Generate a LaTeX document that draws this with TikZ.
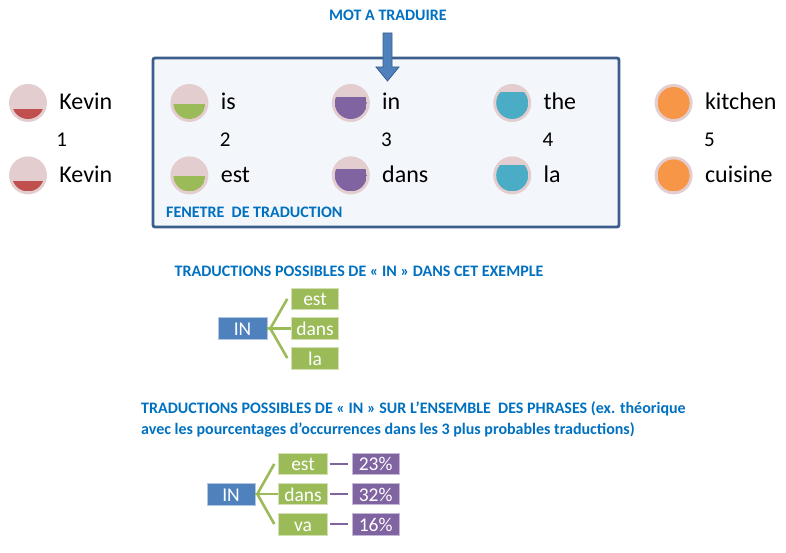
\documentclass[tikz,border=0pt]{standalone}
\usepackage{fontspec}
\setmainfont{Carlito}
\usepackage{xcolor}
\usetikzlibrary{positioning, calc}
\definecolor{titleblue}{HTML}{0070C0}
\definecolor{winfill}{HTML}{F3F6FA}
\definecolor{winedge}{HTML}{3B5E8C}
\definecolor{accblue}{HTML}{4F81BD}
\definecolor{accgreen}{HTML}{9BBB59}
\definecolor{accpurple}{HTML}{8064A2}
\definecolor{accred}{HTML}{C0504D}
\definecolor{acccyan}{HTML}{4BACC6}
\definecolor{accorange}{HTML}{F79646}
\definecolor{tokpink}{HTML}{E3CDCF}

\begin{document}
\begin{tikzpicture}[x=1pt, y=-1pt,
    title/.style={font=\fontsize{16}{21}\selectfont\bfseries, text=titleblue, inner sep=0pt},
    tok/.style 2 args={circle, minimum size=38pt, inner sep=0pt, fill=tokpink,
        path picture={\clip (path picture bounding box.center) circle (16pt);
          \fill[#1] ([shift={(-16pt,-16pt)}]path picture bounding box.center) rectangle ++(32pt,#2*32pt);}},
    word/.style={font=\fontsize{24}{28}\selectfont, text height=16pt, text depth=2pt, inner sep=0pt, anchor=west},
    num/.style={font=\fontsize{21}{24}\selectfont, text height=13.5pt, text depth=0pt, inner sep=0pt},
    box/.style={rectangle, draw=white!55!#1, fill=#1, text=white, line width=0.6pt,
                minimum height=21.5pt, inner sep=0pt, text height=14pt, text depth=0pt,
                font=\fontsize{19.5}{21}\selectfont},
    fork/.style={draw=accgreen, line width=2.6pt, line join=round},
    link/.style={draw=accpurple, line width=2.6pt, shorten <=2pt, shorten >=4pt}
  ]
  \useasboundingbox (0,0) rectangle (786,553);

  % translation window
  \node[draw=winedge, fill=winfill, line width=2.8pt, rounded corners=2pt,
        minimum width=466pt, minimum height=169pt, inner sep=0pt] (win) at (386,142.5) {};
  \node[title, anchor=base] (mot) at (388,21) {MOT A TRADUIRE};
  \node[title, anchor=base west] (fen) at (166,218) {FENETRE\ \ DE TRADUCTION};

  % sentence tokens
  \node[tok={accred}{0.31}] (k1) at (28,103) {};
  \node[tok={accgreen}{0.47}, right=123pt of k1] (t2) {};
  \node[tok={accpurple}{0.69}, right=123pt of t2] (t3) {};
  \node[tok={acccyan}{0.84}, right=123pt of t3] (t4) {};
  \node[tok={accorange}{1}, right=123pt of t4] (t5) {};
  \node[tok={accred}{0.31}, below=34pt of k1] (k2) {};
  \node[tok={accgreen}{0.47}, below=34pt of t2] (u2) {};
  \node[tok={accpurple}{0.69}, below=34pt of t3] (u3) {};
  \node[tok={acccyan}{0.84}, below=34pt of t4] (u4) {};
  \node[tok={accorange}{1}, below=34pt of t5] (u5) {};

  \node[word, right=12pt of k1] (w1) {Kevin};
  \node[word, right=12pt of t2] (w2) {is};
  \node[word, right=12pt of t3] (w3) {in};
  \node[word, right=12pt of t4] (w4) {the};
  \node[word, right=12pt of t5] (w5) {kitchen};
  \node[word, right=12pt of k2] (v1) {Kevin};
  \node[word, right=12pt of u2] (v2) {est};
  \node[word, right=12pt of u3] (v3) {dans};
  \node[word, right=12pt of u4] (v4) {la};
  \node[word, right=12pt of u5] (v5) {cuisine};

  \node[num, below=21pt of w1.south west, anchor=north west, xshift=-3pt] (n1) {1};
  \node[num, below=21pt of w2.south west, anchor=north west, xshift=-1pt] (n2) {2};
  \node[num, below=21pt of w3.south west, anchor=north west, xshift=-1pt] (n3) {3};
  \node[num, below=21pt of w4.south west, anchor=north west, xshift=-1pt] (n4) {4};
  \node[num, below=21pt of w5.south west, anchor=north west, xshift=-1pt] (n5) {5};

  % pointer
  \fill[accblue, draw=winedge, line width=0.8pt] (383,33) -- (392,33) -- (392,67) -- (399,67)
        -- (387.5,81) -- (376,67) -- (383,67) -- cycle;

  % translations in this example
  \node[title, anchor=base] (cap2) at (359,276) {TRADUCTIONS POSSIBLES DE « IN » DANS CET EXEMPLE};
  \node[box=accblue, minimum width=49pt] (in2) at (242.5,328.5) {IN};
  \node[box=accgreen, minimum width=47pt, right=24pt of in2] (dans2) {dans};
  \node[box=accgreen, minimum width=47pt, above=7.5pt of dans2] (est2) {est};
  \node[box=accgreen, minimum width=47pt, below=7.5pt of dans2] (la2) {la};
  \coordinate[right=3pt of in2] (f2);
  \draw[fork] (in2.east) -- (f2);
  \draw[fork] (f2) -- ([xshift=-4pt]est2.west);
  \draw[fork] (f2) -- (dans2.west);
  \draw[fork] (f2) -- ([xshift=-4pt]la2.west);

  % translations over all sentences
  \node[title, anchor=west, align=left] (cap3) at (141,419)
       {TRADUCTIONS POSSIBLES DE « IN » SUR L’ENSEMBLE\ \ DES PHRASES (ex. théorique\\
        avec les pourcentages d’occurrences dans les 3 plus probables traductions)};
  \node[box=accblue, minimum width=48pt, minimum height=22pt] (in3) at (231,494) {IN};
  \node[box=accgreen, minimum width=49pt, right=23pt of in3] (dans3) {dans};
  \node[box=accgreen, minimum width=49pt, above=8pt of dans3] (est3) {est};
  \node[box=accgreen, minimum width=49pt, below=8pt of dans3] (va3) {va};
  \node[box=accpurple, minimum width=47pt, right=24pt of est3] (p1) {23\%};
  \node[box=accpurple, minimum width=47pt, right=24pt of dans3] (p2) {32\%};
  \node[box=accpurple, minimum width=47pt, right=24pt of va3] (p3) {16\%};
  \coordinate[right=2pt of in3] (f3);
  \draw[fork] (in3.east) -- (f3);
  \draw[fork] (f3) -- ([xshift=-4pt]est3.west);
  \draw[fork] (f3) -- (dans3.west);
  \draw[fork] (f3) -- ([xshift=-4pt]va3.west);
  \draw[link] (est3) -- (p1);
  \draw[link] (dans3) -- (p2);
  \draw[link] (va3) -- (p3);
\end{tikzpicture}
\end{document}
